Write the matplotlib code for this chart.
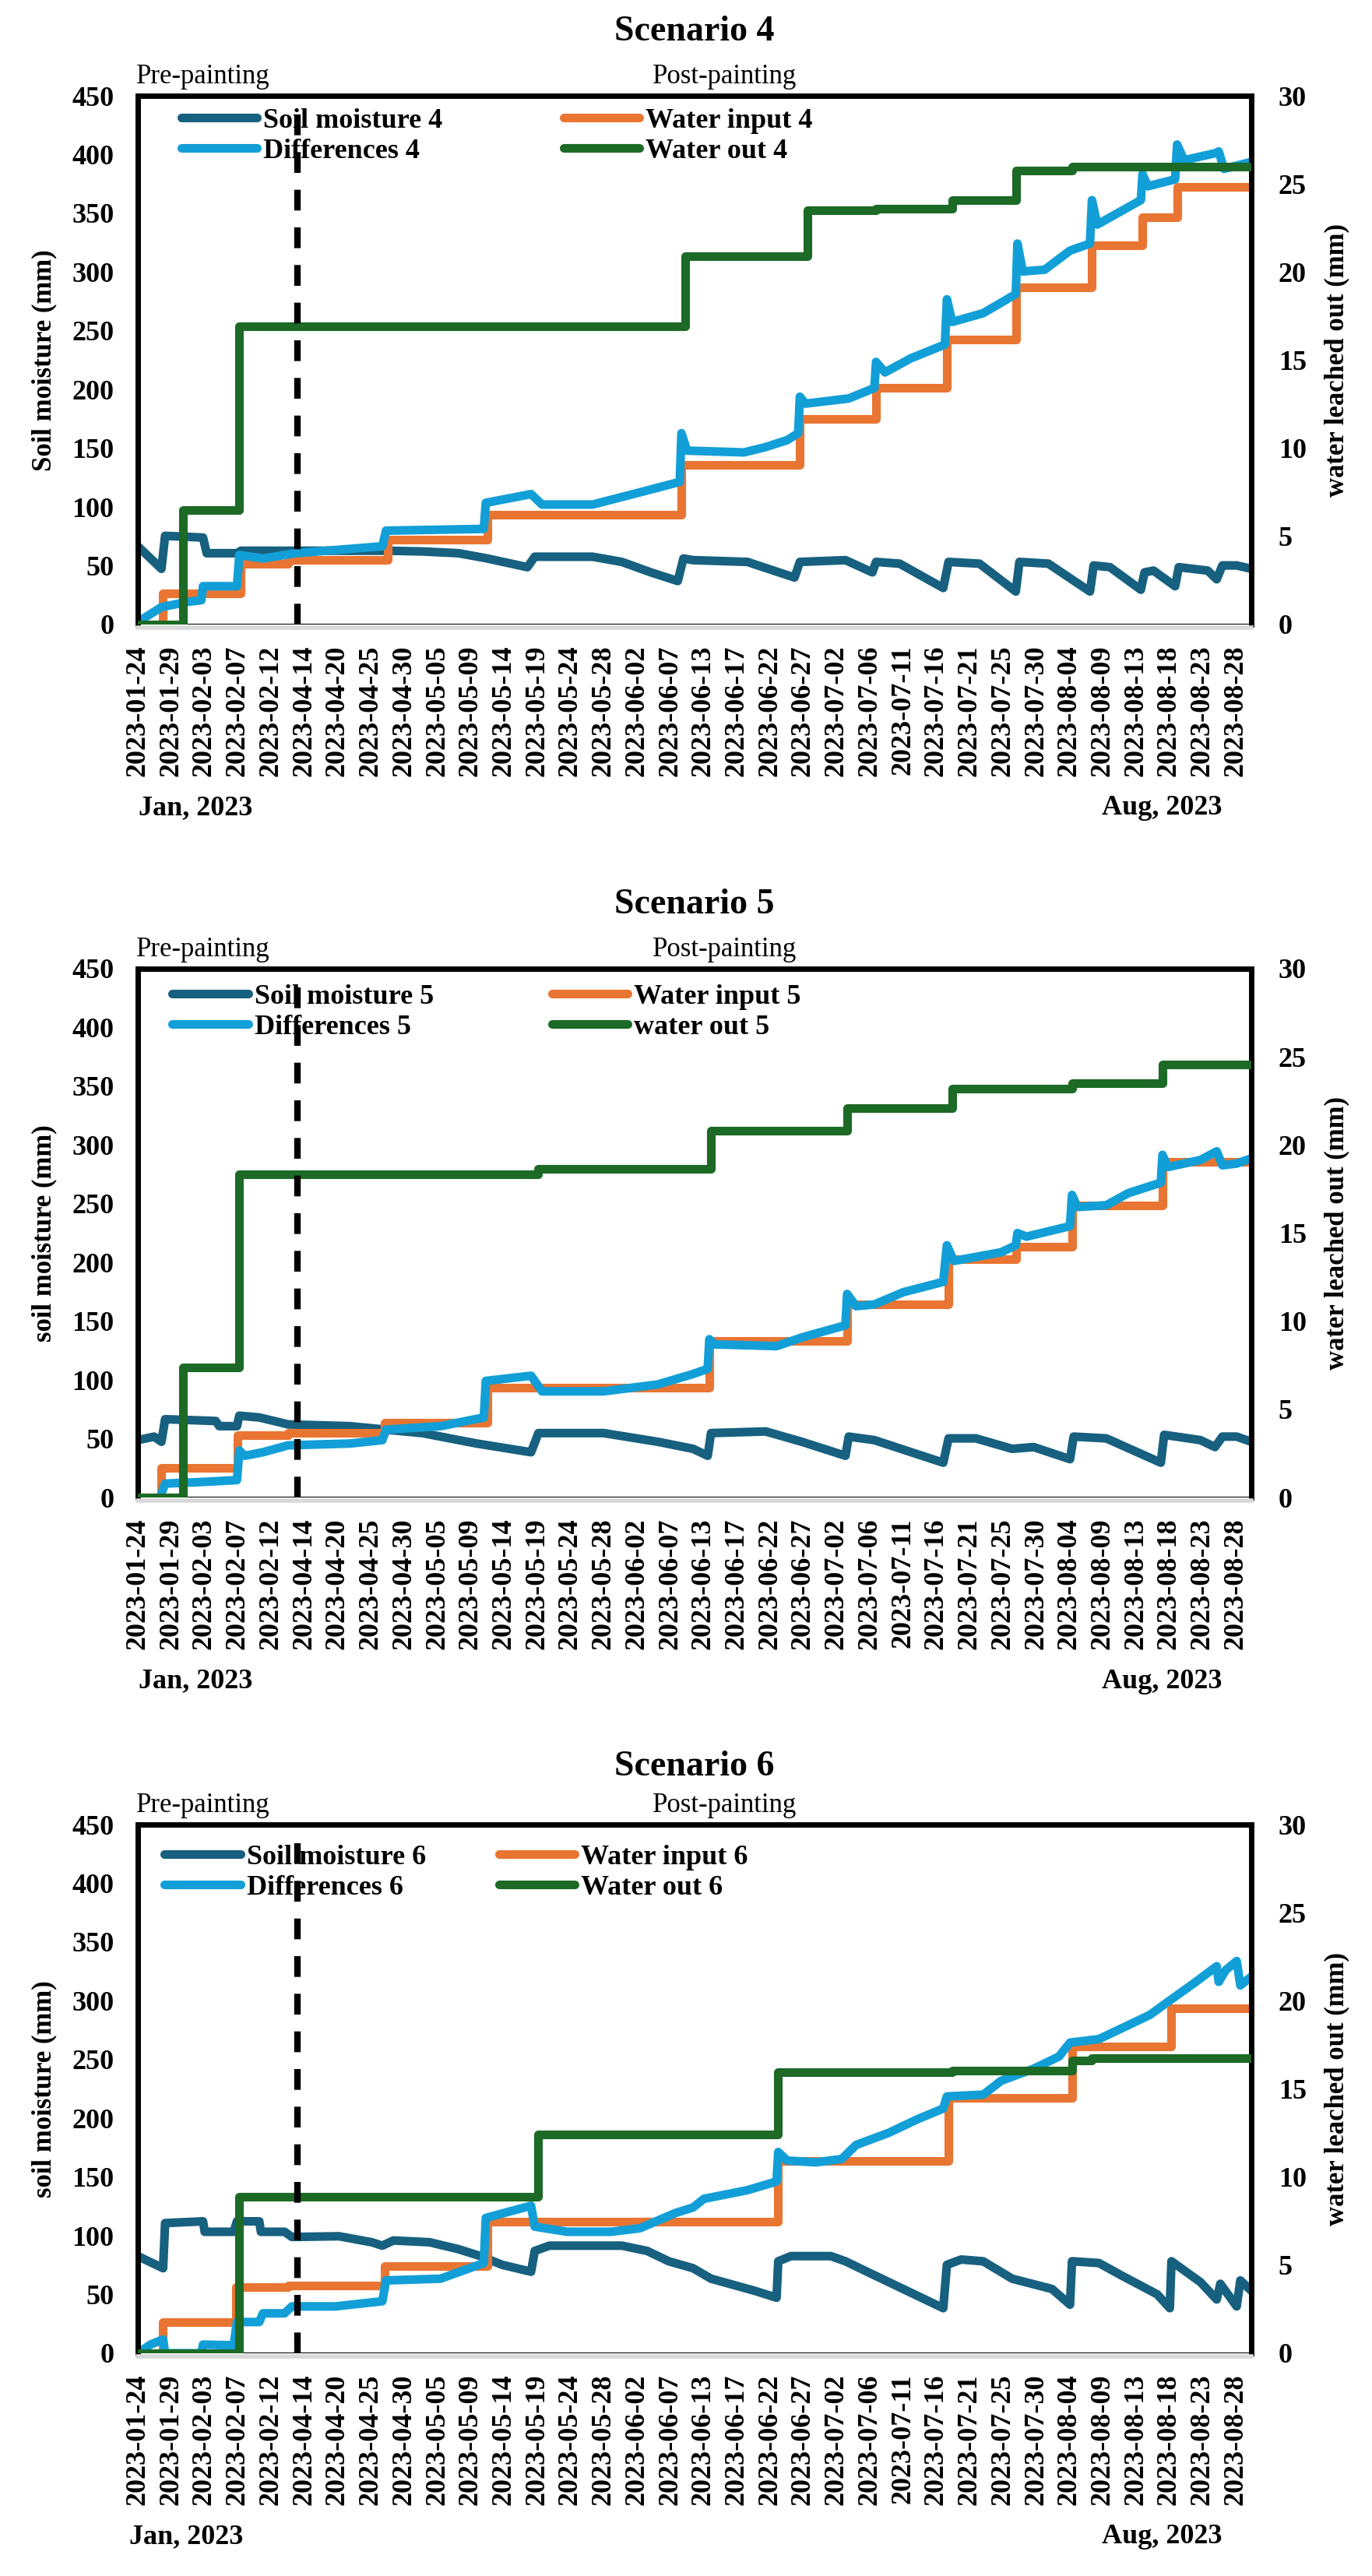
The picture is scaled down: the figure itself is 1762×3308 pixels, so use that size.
import matplotlib
matplotlib.use("Agg")
import matplotlib.pyplot as plt

plt.rcParams["font.family"] = ["Liberation Serif", "DejaVu Serif"]
plt.rcParams["font.weight"] = "bold"

W, H = 1762, 3308

# category axis: tick label k sits at t = k (the axis is not a true time scale)
DATES = ["2023-01-24", "2023-01-29", "2023-02-03", "2023-02-07", "2023-02-12",
         "2023-04-14", "2023-04-20", "2023-04-25", "2023-04-30", "2023-05-05",
         "2023-05-09", "2023-05-14", "2023-05-19", "2023-05-24", "2023-05-28",
         "2023-06-02", "2023-06-07", "2023-06-13", "2023-06-17", "2023-06-22",
         "2023-06-27", "2023-07-02", "2023-07-06", "2023-07-11", "2023-07-16",
         "2023-07-21", "2023-07-25", "2023-07-30", "2023-08-04", "2023-08-09",
         "2023-08-13", "2023-08-18", "2023-08-23", "2023-08-28"]
T_END = 33.47
PLANTING_T = 4.8

# ---- Scenario 4 ----
soil4_t = [0.0, 0.71, 0.82, 1.96, 2.07, 2.98, 3.10, 7.52, 8.55, 9.64,
           10.51, 11.71, 11.93, 13.67, 14.55, 15.42, 16.23, 16.40, 16.69, 18.32,
           19.74, 19.90, 21.27, 22.08, 22.19, 22.90, 24.21, 24.37, 25.30, 26.39,
           26.50, 27.37, 28.62, 28.73, 29.22, 30.15, 30.26, 30.53, 31.18, 31.29,
           32.16, 32.43, 32.60, 33.03, 33.47]
soil4 = [66.6, 47.4, 75.5, 74.0, 60.7, 60.7, 62.8, 62.8, 62.2, 60.7,
         56.2, 48.8, 57.7, 57.7, 53.3, 44.4, 37.0, 56.2, 54.8, 53.3,
         40.0, 53.3, 54.8, 44.4, 53.3, 51.8, 31.1, 53.3, 51.8, 28.1,
         53.3, 51.8, 28.1, 50.3, 48.8, 29.6, 44.4, 45.9, 32.6, 48.8,
         45.9, 38.5, 50.3, 50.3, 47.4]
dif4_t = [0.05, 0.71, 1.47, 1.91, 1.96, 2.98, 3.05, 3.76, 4.74, 7.35,
          7.46, 10.40, 10.46, 11.82, 12.15, 13.67, 15.09, 16.29, 16.34, 16.51,
          18.22, 18.87, 19.52, 19.85, 19.90, 20.07, 21.37, 22.14, 22.19, 22.46,
          23.23, 24.26, 24.32, 24.48, 25.41, 26.39, 26.44, 26.60, 27.26, 28.02,
          28.62, 28.68, 28.84, 30.15, 30.20, 30.36, 31.18, 31.24, 31.45, 32.38,
          32.49, 32.65, 33.47]
dif4 = [3.0, 14.8, 19.2, 20.7, 32.6, 32.6, 59.2, 56.2, 60.7, 66.6,
        79.9, 81.4, 103.6, 111.0, 102.1, 102.1, 112.5, 121.4, 162.8, 148.0,
        146.5, 151.0, 157.0, 162.8, 193.9, 188.0, 192.4, 201.3, 223.5, 214.6,
        226.5, 238.3, 276.8, 257.5, 265.0, 281.2, 324.2, 300.5, 302.0, 318.2,
        324.2, 361.2, 340.4, 361.2, 383.4, 373.0, 378.9, 408.5, 395.2, 401.1,
        402.6, 387.8, 393.7]
win4_t = [0, 0.76, 3.10, 4.52, 7.52, 10.51, 16.34, 19.90, 22.19, 24.32, 26.39, 28.68, 30.20, 31.24, T_END]
win4 = [0, 26.6, 51.8, 54.8, 72.5, 93.2, 135.6, 174.7, 201.3, 242.7, 287.2, 322.7, 346.4, 372.4, 372.4]
wout4_t = [0, 1.36, 3.05, 16.45, 20.12, 22.19, 24.48, 26.39, 28.08, T_END]
wout4 = [0, 6.5, 16.9, 20.9, 23.5, 23.6, 24.1, 25.75, 26.0, 26.0]

# ---- Scenario 5 ----
soil5_t = [0.0, 0.49, 0.71, 0.82, 2.34, 2.45, 2.98, 3.05, 3.65, 4.52,
           6.37, 7.46, 8.55, 10.19, 11.82, 12.04, 14.00, 15.63, 16.69, 17.13,
           17.23, 18.87, 19.96, 21.27, 21.37, 22.14, 24.21, 24.37, 25.19, 26.28,
           26.93, 28.02, 28.13, 29.11, 30.75, 30.85, 31.94, 32.38, 32.60, 33.03,
           33.47]
soil5 = [48.8, 51.8, 47.4, 66.6, 65.1, 60.7, 60.7, 69.6, 68.1, 62.2,
         60.7, 57.7, 54.8, 45.9, 38.5, 54.8, 54.8, 47.4, 41.4, 35.5,
         54.8, 56.2, 47.4, 35.5, 51.8, 48.8, 29.6, 50.3, 50.3, 41.4,
         42.9, 32.6, 51.8, 50.3, 29.6, 53.3, 48.8, 42.9, 51.8, 51.8,
         47.4]
dif5_t = [0.71, 0.82, 2.01, 2.98, 3.05, 3.21, 3.76, 4.52, 6.37, 7.35,
          7.46, 9.10, 10.40, 10.46, 11.82, 12.15, 14.00, 15.63, 16.69, 17.13,
          17.18, 17.34, 19.20, 19.96, 21.27, 21.32, 21.59, 22.14, 23.01, 24.21,
          24.32, 24.53, 25.95, 26.39, 26.44, 26.71, 28.02, 28.08, 28.24, 29.11,
          29.77, 30.75, 30.80, 30.96, 31.94, 32.43, 32.60, 33.03, 33.47]
dif5 = [3.0, 11.8, 13.3, 14.8, 40.0, 35.5, 38.5, 44.4, 45.9, 48.8,
        57.7, 60.7, 68.1, 99.2, 103.6, 90.3, 90.3, 96.2, 105.1, 109.5,
        134.7, 130.3, 128.8, 136.2, 146.5, 173.2, 162.8, 164.3, 174.7, 183.5,
        214.6, 201.3, 208.7, 214.6, 225.0, 222.0, 230.9, 257.5, 247.2, 248.7,
        259.0, 267.9, 291.6, 281.2, 287.2, 294.6, 282.7, 284.2, 288.6]
win5_t = [0, 0.71, 2.99, 4.52, 7.41, 10.51, 17.18, 21.32, 24.37, 26.39, 28.08, 30.80, T_END]
win5 = [0, 25.2, 53.3, 54.8, 63.6, 93.5, 133.2, 164.3, 202.8, 213.1, 248.7, 285.7, 285.7]
wout5_t = [0, 1.36, 3.05, 12.04, 17.23, 21.32, 24.48, 28.08, 30.80, T_END]
wout5 = [0, 7.40, 18.35, 18.65, 20.82, 22.10, 23.19, 23.49, 24.57, 24.57]

# ---- Scenario 6 ----
soil6_t = [0.0, 0.76, 0.82, 1.96, 2.01, 2.88, 2.98, 3.65, 3.70, 4.41,
           4.63, 6.05, 7.03, 7.35, 7.68, 8.77, 9.64, 10.30, 10.95, 11.82,
           11.93, 12.37, 14.55, 15.31, 15.96, 16.69, 17.23, 18.54, 19.20, 19.25,
           19.63, 20.83, 21.27, 21.92, 23.45, 24.21, 24.32, 24.75, 25.41, 26.28,
           27.48, 28.02, 28.08, 28.89, 29.55, 30.64, 31.02, 31.07, 31.94, 32.43,
           32.54, 33.03, 33.14, 33.47]
soil6 = [82.7, 72.4, 110.8, 112.3, 103.4, 103.4, 112.3, 112.3, 103.4, 103.4,
         99.0, 99.6, 94.5, 91.6, 96.0, 94.5, 88.6, 82.7, 75.3, 69.4,
         87.1, 91.6, 91.6, 87.1, 78.3, 72.4, 63.5, 53.2, 47.3, 78.3,
         82.7, 82.7, 78.3, 69.4, 48.7, 38.4, 75.3, 79.8, 78.3, 63.5,
         54.7, 41.4, 78.3, 76.8, 66.5, 50.2, 38.4, 78.3, 60.6, 45.8,
         59.1, 39.9, 62.0, 53.2]
dif6_t = [0.0, 0.38, 0.76, 0.82, 1.91, 1.96, 2.88, 2.98, 3.65, 3.76,
          4.41, 4.63, 5.94, 7.35, 7.46, 9.10, 10.40, 10.46, 11.82, 11.93,
          12.91, 14.22, 15.09, 16.18, 16.69, 17.02, 18.32, 19.20, 19.25, 19.52,
          20.39, 21.16, 21.59, 22.57, 23.45, 24.21, 24.32, 25.41, 25.95, 26.93,
          27.69, 28.02, 28.89, 29.77, 30.42, 31.07, 31.73, 32.43, 32.49, 32.71,
          33.03, 33.14, 33.47]
dif6 = [0.0, 7.4, 11.8, 0.0, 0.0, 7.4, 6.8, 26.6, 26.6, 34.0,
        34.0, 39.9, 39.9, 44.3, 62.0, 63.5, 76.8, 115.2, 125.6, 107.8,
        103.4, 103.4, 106.4, 119.6, 124.1, 131.5, 138.8, 146.2, 171.3, 164.0,
        162.5, 165.4, 177.3, 187.6, 199.4, 208.3, 218.6, 220.1, 231.9, 242.2,
        252.6, 264.4, 267.4, 279.2, 288.0, 301.3, 314.6, 329.4, 316.1, 326.4,
        333.8, 313.1, 320.5]
win6_t = [0, 0.76, 2.94, 4.52, 7.41, 10.51, 19.25, 24.37, 28.08, 31.07, T_END]
win6 = [0, 26.6, 56.1, 57.6, 73.9, 112.3, 164.0, 217.1, 261.4, 293.4, 293.4]
wout6_t = [0, 3.05, 12.04, 19.25, 24.48, 28.08, 28.68, T_END]
wout6 = [0, 8.9, 12.4, 15.95, 16.05, 16.6, 16.74, 16.74]

C_SOIL, C_WIN, C_DIF, C_OUT = "#17607f", "#e97532", "#129fd7", "#1c6a25"
PLOT_L, PLOT_R = 177, 1607
PLOT_H = 679


def fx(x):
    return x / W


def fy(y):
    return 1 - y / H


def panel(fig, top, n, ylab, out_lab, series, leg_x, leg_top, colsp, jan_x, title_dy=82):
    bottom = top + PLOT_H
    ax = fig.add_axes([fx(PLOT_L), fy(bottom), (PLOT_R - PLOT_L) / W, PLOT_H / H])
    soil_t, soil, dif_t, dif, win_t, win, out_t, out = series
    kw = dict(lw=8, solid_capstyle="round", solid_joinstyle="round")
    l1, = ax.plot(soil_t, soil, color=C_SOIL, label=f"Soil moisture {n}", **kw)
    l2, = ax.plot(win_t, win, color=C_WIN, drawstyle="steps-post", label=f"Water input {n}", **kw)
    l3, = ax.plot(dif_t, dif, color=C_DIF, label=f"Differences {n}", **kw)
    ax.axhline(0, color="black", lw=1.5, zorder=1.5)
    ax.set_xlim(0, T_END)
    ax.set_ylim(0, 450)
    ax.set_xticks(range(len(DATES)), DATES)
    ax.set_yticks(range(0, 451, 50))
    ax.tick_params(axis="x", length=0, pad=16, labelrotation=90, labelsize=26)
    ax.tick_params(axis="y", length=0, pad=22, labelsize=26)
    for s in ("left", "top", "right"):
        ax.spines[s].set_linewidth(5)
        ax.spines[s].set_color("black")
    ax.spines["bottom"].set_color("#d9d9d9")
    ax.spines["bottom"].set_linewidth(4)
    ax.spines["bottom"].set_position(("outward", 3))

    ax2 = ax.twinx()
    l4, = ax2.plot(out_t, out, color=C_OUT, drawstyle="steps-post", label=out_lab, **kw)
    ax2.axvline(PLANTING_T, color="black", lw=6, dashes=(3.2, 2.6), zorder=6)
    ax2.set_ylim(0, 30)
    ax2.set_yticks(range(0, 31, 5))
    ax2.tick_params(axis="y", length=0, pad=25, labelsize=26)
    for s in ax2.spines.values():
        s.set_visible(False)

    ax2.legend([l1, l3, l2, l4], [l1.get_label(), l3.get_label(), l2.get_label(), l4.get_label()],
               ncol=2, loc="upper left", bbox_to_anchor=(leg_x, leg_top), frameon=False,
               borderpad=0, borderaxespad=0, handlelength=2.7, handletextpad=0.22,
               columnspacing=colsp, labelspacing=0.15, prop=dict(size=26, weight="bold"))

    mid = top + PLOT_H / 2
    fig.text(fx(892), fy(top - title_dy), f"Scenario {n}", ha="center", va="center", fontsize=33)
    fig.text(fx(175), fy(top - 16), "Pre-painting", ha="left", va="baseline",
             fontsize=25, fontweight="normal")
    fig.text(fx(838), fy(top - 16), "Post-painting", ha="left", va="baseline",
             fontsize=25, fontweight="normal")
    fig.text(fx(57), fy(mid), ylab, rotation=90, ha="center", va="center", fontsize=25)
    fig.text(fx(1717), fy(mid), "water leached out (mm)", rotation=90, ha="center",
             va="center", fontsize=25)
    fig.text(fx(jan_x), fy(bottom + 236), "Jan, 2023", ha="left", va="center", fontsize=26)
    fig.text(fx(1415), fy(bottom + 236), "Aug, 2023", ha="left", va="center", fontsize=26)


fig = plt.figure(figsize=(W / 100, H / 100), dpi=100)
panel(fig, 123, 4, "Soil moisture (mm)", "Water out 4",
      (soil4_t, soil4, dif4_t, dif4, win4_t, win4, wout4_t, wout4), 0.039, 0.977, 4.3, 178)
panel(fig, 1244, 5, "soil moisture (mm)", "water out 5",
      (soil5_t, soil5, dif5_t, dif5, win5_t, win5, wout5_t, wout5), 0.031, 0.971, 4.2, 178)
panel(fig, 2343, 6, "soil moisture (mm)", "Water out 6",
      (soil6_t, soil6, dif6_t, dif6, win6_t, win6, wout6_t, wout6), 0.024, 0.962, 2.6, 166,
      title_dy=74)
fig.savefig("out.png", dpi=100)
